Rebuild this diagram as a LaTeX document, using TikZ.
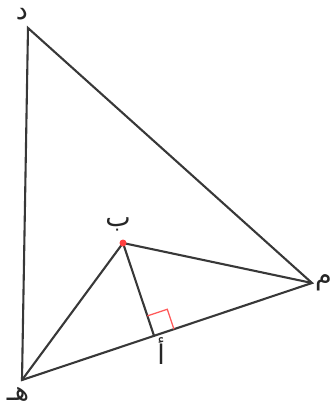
\documentclass[tikz,border=0pt]{standalone}
\usepackage{fontspec}
\newfontfamily\arabicfont[Script=Arabic]{DejaVu Sans}
\TeXXeTstate=1
\usetikzlibrary{calc}
\begin{document}
\begin{tikzpicture}[x=1pt,y=-1pt,
  edge/.style={draw=black!78, line width=2.1pt, line cap=round},
  lbl/.style={font=\arabicfont\fontsize{27}{27}\selectfont, text=black!85, inner sep=0pt},
  marker/.style={draw=red!65!white, line width=1.3pt}]
\useasboundingbox (0,0) rectangle (332,410);
\coordinate (D) at (28,28);
\coordinate (H) at (22,380);
\coordinate (M) at (312,283);
\coordinate (B) at (123,243);
\coordinate (A) at ($(H)!(B)!(M)$);
\draw[edge] (D) -- (H) -- (M) -- cycle;
\draw[edge] (H) -- (B) -- (M);
\draw[edge] (B) -- (A);
\coordinate (P1) at ($(A)!21pt!(B)$);
\coordinate (P2) at ($(A)!21pt!(M)$);
\draw[marker] (P1) -- ($(P1)+(P2)-(A)$) -- (P2);
\fill[red!75!white] (B) circle (3.5pt);
\node[lbl, anchor=base] (ld) at (22,19) {\beginR د\endR};
\node[lbl, anchor=base] (lh) at (18,400) {\beginR هـ\endR};
\node[lbl, anchor=east] (lm) at (332,283) {\beginR م\endR};
\node[lbl, anchor=base] (lb) at (118,226) {\beginR ب\endR};
\node[lbl, anchor=base] (la) at (161,364) {\beginR أ\endR};
\end{tikzpicture}
\end{document}
